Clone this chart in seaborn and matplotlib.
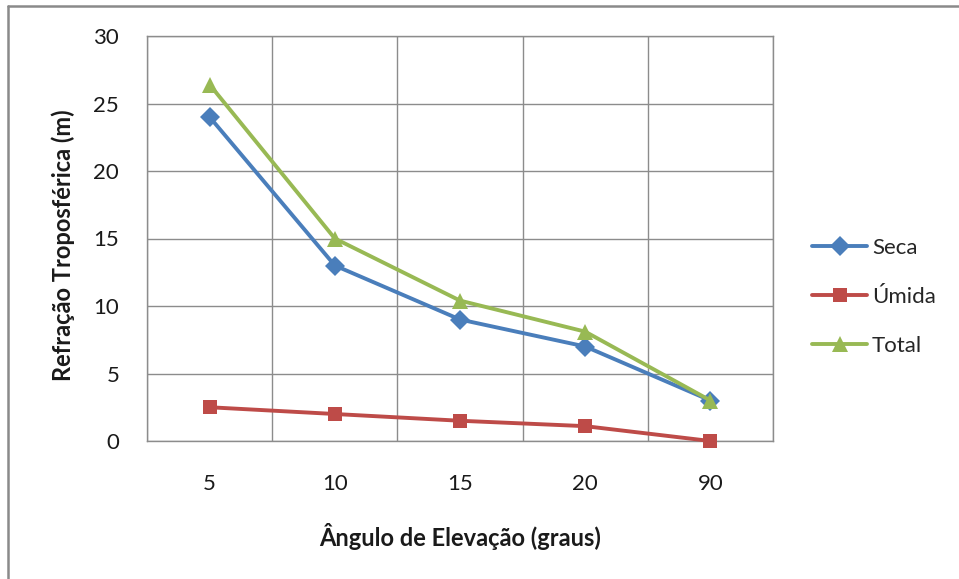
import matplotlib
matplotlib.use("Agg")
import matplotlib.pyplot as plt
from matplotlib.lines import Line2D
import numpy as np
import pandas as pd
import seaborn as sns

# Elevation angle categories (degrees) and tropospheric refraction (m)
angulos = ["5", "10", "15", "20", "90"]
seca = [24.0, 13.0, 9.0, 7.0, 3.0]
umida = [2.5, 2.0, 1.5, 1.1, 0.0]
total = [26.4, 15.0, 10.4, 8.1, 3.0]

series_names = ["Seca", "Úmida", "Total"]
series_colors = ["#4A7EBB", "#BE4B48", "#98B954"]
series_markers = ["D", "s", "^"]
series_sizes = [10.5, 10.5, 12]

sns.set_theme(style="white")
plt.rcParams["font.family"] = ["Lato", "DejaVu Sans"]

pos = np.arange(len(angulos))
df = pd.DataFrame({
    "pos": np.tile(pos, 3),
    "valor": seca + umida + total,
    "serie": np.repeat(series_names, len(angulos)),
})

fig = plt.figure(figsize=(9.59, 5.79), dpi=100)
ax = fig.add_axes([147 / 959, 1 - 441 / 579, (773 - 147) / 959, (441 - 36) / 579])

for name, color, mk, ms in zip(series_names, series_colors, series_markers, series_sizes):
    sns.lineplot(data=df[df["serie"] == name], x="pos", y="valor", ax=ax,
                 color=color, linewidth=2.8, marker=mk, markersize=ms,
                 markeredgewidth=0, legend=False, zorder=3, clip_on=False)

grid_c = "#8C8C8C"
text_c = "#1a1a1a"
ax.set_xlim(-0.5, len(angulos) - 0.5)
ax.set_ylim(0, 30)
ax.set_yticks(np.arange(0, 31, 5))
ax.set_xticks(pos)
ax.set_xticklabels(angulos)
ax.set_xticks(np.arange(-0.5, len(angulos), 1.0), minor=True)
ax.tick_params(axis="x", which="major", length=0, pad=24, labelsize=16, colors=text_c)
ax.tick_params(axis="x", which="minor", length=8, width=1, color=grid_c, direction="out")
ax.tick_params(axis="y", which="major", length=9, width=1, color=grid_c, direction="out",
               pad=11, labelsize=16, colors=text_c)
ax.grid(True, which="major", axis="y", color=grid_c, linewidth=1)
ax.grid(True, which="minor", axis="x", color=grid_c, linewidth=1)
ax.set_axisbelow(True)
for side in ["left", "bottom", "right", "top"]:
    ax.spines[side].set_visible(True)
    ax.spines[side].set_color(grid_c)
    ax.spines[side].set_linewidth(1)

ax.set_xlabel("Ângulo de Elevação (graus)", fontsize=17, fontweight="bold",
              color=text_c, labelpad=21)
ax.set_ylabel("Refração Troposférica (m)", fontsize=17, fontweight="bold", color=text_c)
ax.yaxis.set_label_coords((75 - 147) / 626, (441 - 245) / 405)

handles = [Line2D([0], [0], color=c, lw=2.8, marker=m, markersize=s * 0.95, markeredgewidth=0)
           for c, m, s in zip(series_colors, series_markers, series_sizes)]
fig.legend(handles, series_names, loc="center left", bbox_to_anchor=(803 / 959, 1 - 297 / 579),
           frameon=False, fontsize=16, handlelength=2.5, handletextpad=0.2,
           labelspacing=1.3, borderaxespad=0)

# outer chart frame
fig.add_artist(Line2D([8 / 959, 1.0], [1 - 6 / 579, 1 - 6 / 579], color="#8A8A8A", lw=1.8,
                      transform=fig.transFigure))
fig.add_artist(Line2D([8 / 959, 8 / 959], [0, 1 - 6 / 579], color="#8A8A8A", lw=1.8,
                      transform=fig.transFigure))

fig.savefig("out.png", dpi=100)
